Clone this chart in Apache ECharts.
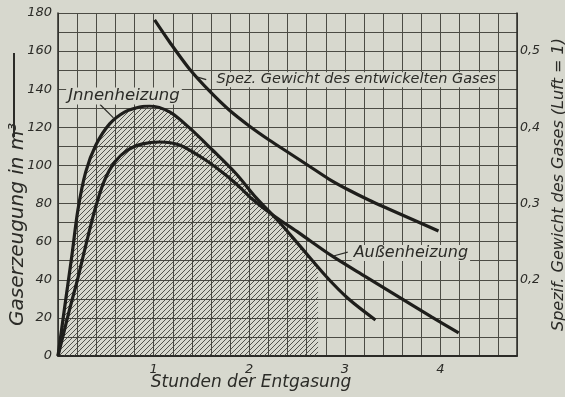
<!DOCTYPE html>
<html><head><meta charset="utf-8">
<script src="https://cdn.jsdelivr.net/npm/echarts@6/dist/echarts.min.js"></script>
<style>html,body{margin:0;padding:0;background:#d7d8ce;overflow:hidden}#c{width:565px;height:397px}</style>
</head><body><div id="c"></div>
<script>
// Stunden der Entgasung (x) and values
const innenX = [0, 0.073, 0.146, 0.208, 0.29, 0.396, 0.54, 0.70, 0.854, 0.958, 1.167, 1.375, 1.615, 1.865, 2.073, 2.313, 2.52, 2.80, 3.04, 3.32];
const innenY = [0, 26.8, 53, 76.6, 96.6, 110.7, 121.8, 128.1, 130.7, 131.2, 128.1, 119.7, 108.1, 95.5, 83, 70.3, 58.3, 42, 29.9, 18.9];
const aussenX = [0, 0.052, 0.125, 0.208, 0.292, 0.385, 0.479, 0.594, 0.729, 0.885, 1.0625, 1.27, 1.51, 1.6875, 1.865, 2.03, 2.26, 2.52, 2.865, 3.22, 3.5625, 3.906, 4.19];
const aussenY = [0, 10.5, 25.2, 40.9, 58.3, 76.6, 91.3, 101.8, 108.1, 111.3, 112.3, 110.7, 103.9, 97.6, 90.3, 82.4, 73.5, 64.6, 52.5, 41.5, 31, 20.5, 12.1];
const spezX = [1.01, 1.167, 1.375, 1.583, 1.79, 2.0, 2.208, 2.417, 2.625, 2.833, 3.04, 3.25, 3.458, 3.719, 3.979];
const spezY = [0.541, 0.512, 0.4765, 0.4477, 0.4227, 0.4018, 0.3834, 0.3663, 0.3493, 0.3322, 0.3178, 0.3047, 0.2929, 0.2784, 0.264];
// hatched region (Innenheizung up to the end of the shading)
const shadeX = [0, 0.073, 0.146, 0.208, 0.29, 0.396, 0.54, 0.70, 0.854, 0.958, 1.167, 1.375, 1.615, 1.865, 2.073, 2.313, 2.52, 2.72];
const shadeY = [0, 26.8, 53, 76.6, 96.6, 110.7, 121.8, 128.1, 130.7, 131.2, 128.1, 119.7, 108.1, 95.5, 83, 70.3, 58.3, 46.5];
const xLabels = [1, 2, 3, 4];
const leftTicks = [0, 20, 40, 60, 80, 100, 120, 140, 160, 180];
const rightTicks = [0.2, 0.3, 0.4, 0.5];

const pair = (xs, ys) => xs.map((x, i) => [x, ys[i]]);

const ink = '#2b2b27';
const gridC = '#4b4b44';
const bg = '#d7d8ce';
const font = 'DejaVu Sans';

const cv = document.createElement('canvas');
cv.width = 5; cv.height = 5;
const cx = cv.getContext('2d');
cx.strokeStyle = 'rgba(60,60,55,0.85)';
cx.lineWidth = 1;
cx.beginPath();
cx.moveTo(-1, 6); cx.lineTo(6, -1);
cx.moveTo(-1, 1); cx.lineTo(1, -1);
cx.moveTo(4, 6); cx.lineTo(6, 4);
cx.stroke();

const chart = echarts.init(document.getElementById('c'), null, {width: 565, height: 397});
const lab = (text, coord, size) => ({
  coord: coord, symbol: 'rect', symbolSize: 1, itemStyle: {color: 'rgba(0,0,0,0)'},
  label: {show: true, position: 'inside', formatter: text, color: ink, fontFamily: font,
    fontStyle: 'italic', fontSize: size, backgroundColor: bg, padding: [0, 2]}
});
const lineSt = {color: '#1e1e1b', width: 3.2};
chart.setOption({
  backgroundColor: bg,
  animation: false,
  grid: {left: 58, right: 48, top: 13, bottom: 41, containLabel: false, outerBoundsMode: 'none'},
  xAxis: {
    type: 'value', min: 0, max: 4.8, interval: 0.2,
    axisLine: {show: true, lineStyle: {color: ink, width: 2}},
    axisTick: {show: false},
    axisLabel: {margin: 7, color: ink, fontFamily: font, fontStyle: 'italic', fontSize: 13,
      formatter: v => { const r = Math.round(v); return (Math.abs(v - r) < 1e-6 && xLabels.includes(r)) ? String(r) : ''; }},
    splitLine: {show: true, lineStyle: {color: gridC, width: 1}}
  },
  yAxis: [{
    type: 'value', min: 0, max: 180, interval: 10,
    axisLine: {show: true, lineStyle: {color: ink, width: 1.5}},
    axisTick: {show: false},
    axisLabel: {margin: 6, color: ink, fontFamily: font, fontStyle: 'italic', fontSize: 13,
      formatter: v => leftTicks.includes(v) ? String(v) : ''},
    splitLine: {show: true, lineStyle: {color: gridC, width: 1}}
  }, {
    type: 'value', min: 0.1, max: 0.55, interval: 0.1,
    axisLine: {show: true, lineStyle: {color: ink, width: 1.5}},
    axisTick: {show: false},
    splitLine: {show: false},
    axisLabel: {margin: 3, color: ink, fontFamily: font, fontStyle: 'italic', fontSize: 12.5,
      formatter: v => rightTicks.some(t => Math.abs(t - v) < 1e-6) ? v.toFixed(1).replace('.', ',') : ''},
    name: 'Spezif. Gewicht des Gases (Luft = 1)', nameLocation: 'middle', nameRotate: 90, nameGap: 31,
    nameTextStyle: {color: ink, fontFamily: font, fontStyle: 'italic', fontSize: 16}
  }],
  graphic: [
    {type: 'text', rotation: Math.PI / 2, x: 8, y: 326,
      style: {text: 'Gaserzeugung in m³', fill: ink, font: 'italic 20px "DejaVu Sans"'}},
    {type: 'text', x: 251, y: 383,
      style: {text: 'Stunden der Entgasung', fill: ink, font: 'italic 17px "DejaVu Sans"', align: 'center', verticalAlign: 'middle'}},
    {type: 'line', shape: {x1: 14, y1: 53, x2: 14, y2: 137}, style: {stroke: ink, lineWidth: 2}}
  ],
  series: [
    {type: 'line', data: pair(shadeX, shadeY), showSymbol: false, smooth: 0.3,
      lineStyle: {width: 0}, areaStyle: {color: {image: cv, repeat: 'repeat'}, opacity: 1}, z: 1, silent: true},
    {type: 'line', name: 'Innenheizung', data: pair(innenX, innenY), showSymbol: false, smooth: 0.3,
      lineStyle: lineSt, z: 3,
      markPoint: {data: [lab('Jnnenheizung', [0.69, 136.5], 16.5)], z: 5},
      markLine: {symbol: 'none', silent: true, label: {show: false}, lineStyle: {color: ink, width: 1.2, type: 'solid'},
        data: [[{coord: [0.44, 132]}, {coord: [0.58, 125]}]]}},
    {type: 'line', name: 'Außenheizung', data: pair(aussenX, aussenY), showSymbol: false, smooth: 0.3,
      lineStyle: lineSt, z: 3,
      markPoint: {data: [lab('Außenheizung', [3.69, 54], 16), lab('Spez. Gewicht des entwickelten Gases', [3.12, 145], 14.5)], z: 5},
      markLine: {symbol: 'none', silent: true, label: {show: false}, lineStyle: {color: ink, width: 1.2, type: 'solid'},
        data: [[{coord: [2.88, 52.5]}, {coord: [3.03, 54.5]}], [{coord: [1.45, 146.5]}, {coord: [1.55, 145]}]]}},
    {type: 'line', name: 'Spez. Gewicht', yAxisIndex: 1, data: pair(spezX, spezY), showSymbol: false, smooth: 0.3,
      lineStyle: lineSt, z: 3}
  ]
});
</script>
</body></html>
